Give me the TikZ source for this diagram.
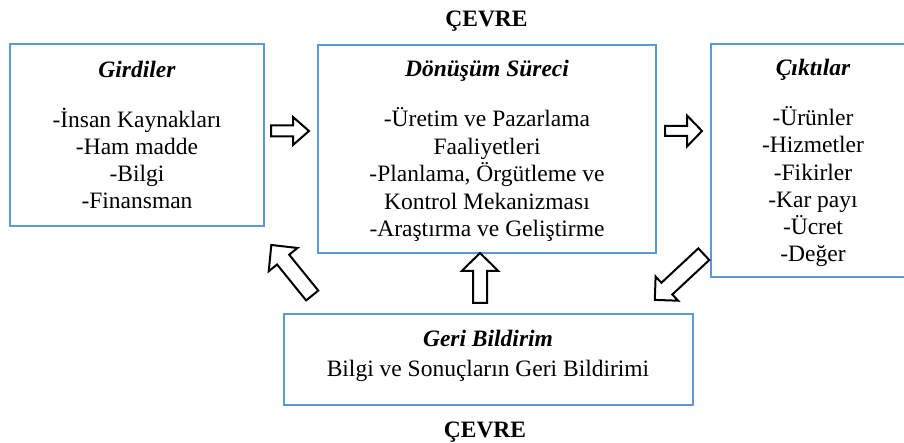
\documentclass[tikz,border=0pt]{standalone}
\usepackage{fontspec}
\setmainfont{Liberation Serif}
\definecolor{boxblue}{RGB}{91,155,213}
\tikzset{
  box/.style={draw=boxblue, line width=2.3pt, rectangle, inner sep=0pt},
  ttl/.style={font=\fontsize{23.5}{27}\selectfont\bfseries\itshape, anchor=base, inner sep=0pt},
  txt/.style={font=\fontsize{23.5}{27}\selectfont, anchor=base, inner sep=0pt},
  env/.style={font=\fontsize{23.5}{27}\selectfont\bfseries, anchor=base, inner sep=0pt},
  barrow/.style={draw=black, line width=2pt, fill=white, line join=miter},
}
% #1 name, #2 tail centre, #3 angle, #4 length, #5 shaft half width, #6 head half width, #7 head length
\newcommand{\blockarr}[7]{%
  \begin{scope}[shift={#2}, rotate=#3]
    \draw[barrow] (0,-#5) -- ({#4-#7},-#5) -- ({#4-#7},-#6) -- (#4,0) -- ({#4-#7},#6) -- ({#4-#7},#5) -- (0,#5) -- cycle;
    \coordinate (#1) at (#4,0);
  \end{scope}}
\begin{document}
\begin{tikzpicture}[x=1pt,y=-1pt]
\useasboundingbox (0,0) rectangle (904,443);
\fill[white] (0,0) rectangle (904,443);

% boxes
\node[box, minimum width=254pt, minimum height=182pt] (girdiler) at (137,135) {};
\node[box, minimum width=338pt, minimum height=208pt] (donusum) at (487,149) {};
\begin{scope}
  \clip (0,0) rectangle (904,443);
  \node[box, minimum width=219pt, minimum height=233pt] (ciktilar) at (820.5,160.5) {};
\end{scope}
\node[box, minimum width=409pt, minimum height=91pt] (geri) at (488.5,359.5) {};

% environment labels
\node[env] (cevreust) at (486.5,26.5) {ÇEVRE};
\node[env] (cevrealt) at (485,437) {ÇEVRE};

% Girdiler
\node[ttl] (girT) at (137,78) {Girdiler};
\foreach \t [count=\i] in {-İnsan Kaynakları, -Ham madde, -Bilgi, -Finansman}
  \node[txt, name=gir\i] at (137,{128+26.7*(\i-1)}) {\t};

% Dönüşüm Süreci
\node[ttl] (donT) at (487,77) {Dönüşüm Süreci};
\foreach \t [count=\i] in {-Üretim ve Pazarlama, Faaliyetleri, {-Planlama, Örgütleme ve}, Kontrol Mekanizması, -Araştırma ve Geliştirme}
  \node[txt, name=don\i] at (487,{127+27.4*(\i-1)}) {\t};

% Çıktılar
\node[ttl] (cikT) at (813,76) {Çıktılar};
\foreach \t [count=\i] in {-Ürünler, -Hizmetler, -Fikirler, -Kar payı, -Ücret, -Değer}
  \node[txt, name=cik\i] at (813,{125.5+27.3*(\i-1)}) {\t};

% Geri Bildirim
\node[ttl] (geriT) at (488,346.5) {Geri Bildirim};
\node[txt] (geriX) at (488,376.5) {Bilgi ve Sonuçların Geri Bildirimi};

% block arrows
\blockarr{a1}{(271,131)}{0}{38}{5.5}{14}{16}
\blockarr{a2}{(665,131)}{0}{37}{5}{15.5}{15}
\blockarr{a3}{(480,303)}{90}{50}{7}{18.3}{18}
\blockarr{a4}{(312.2,295.5)}{129}{65}{7.8}{18.5}{18.8}
\blockarr{a5}{(703.8,254.2)}{223}{67}{8}{16.5}{16.5}
\end{tikzpicture}
\end{document}
